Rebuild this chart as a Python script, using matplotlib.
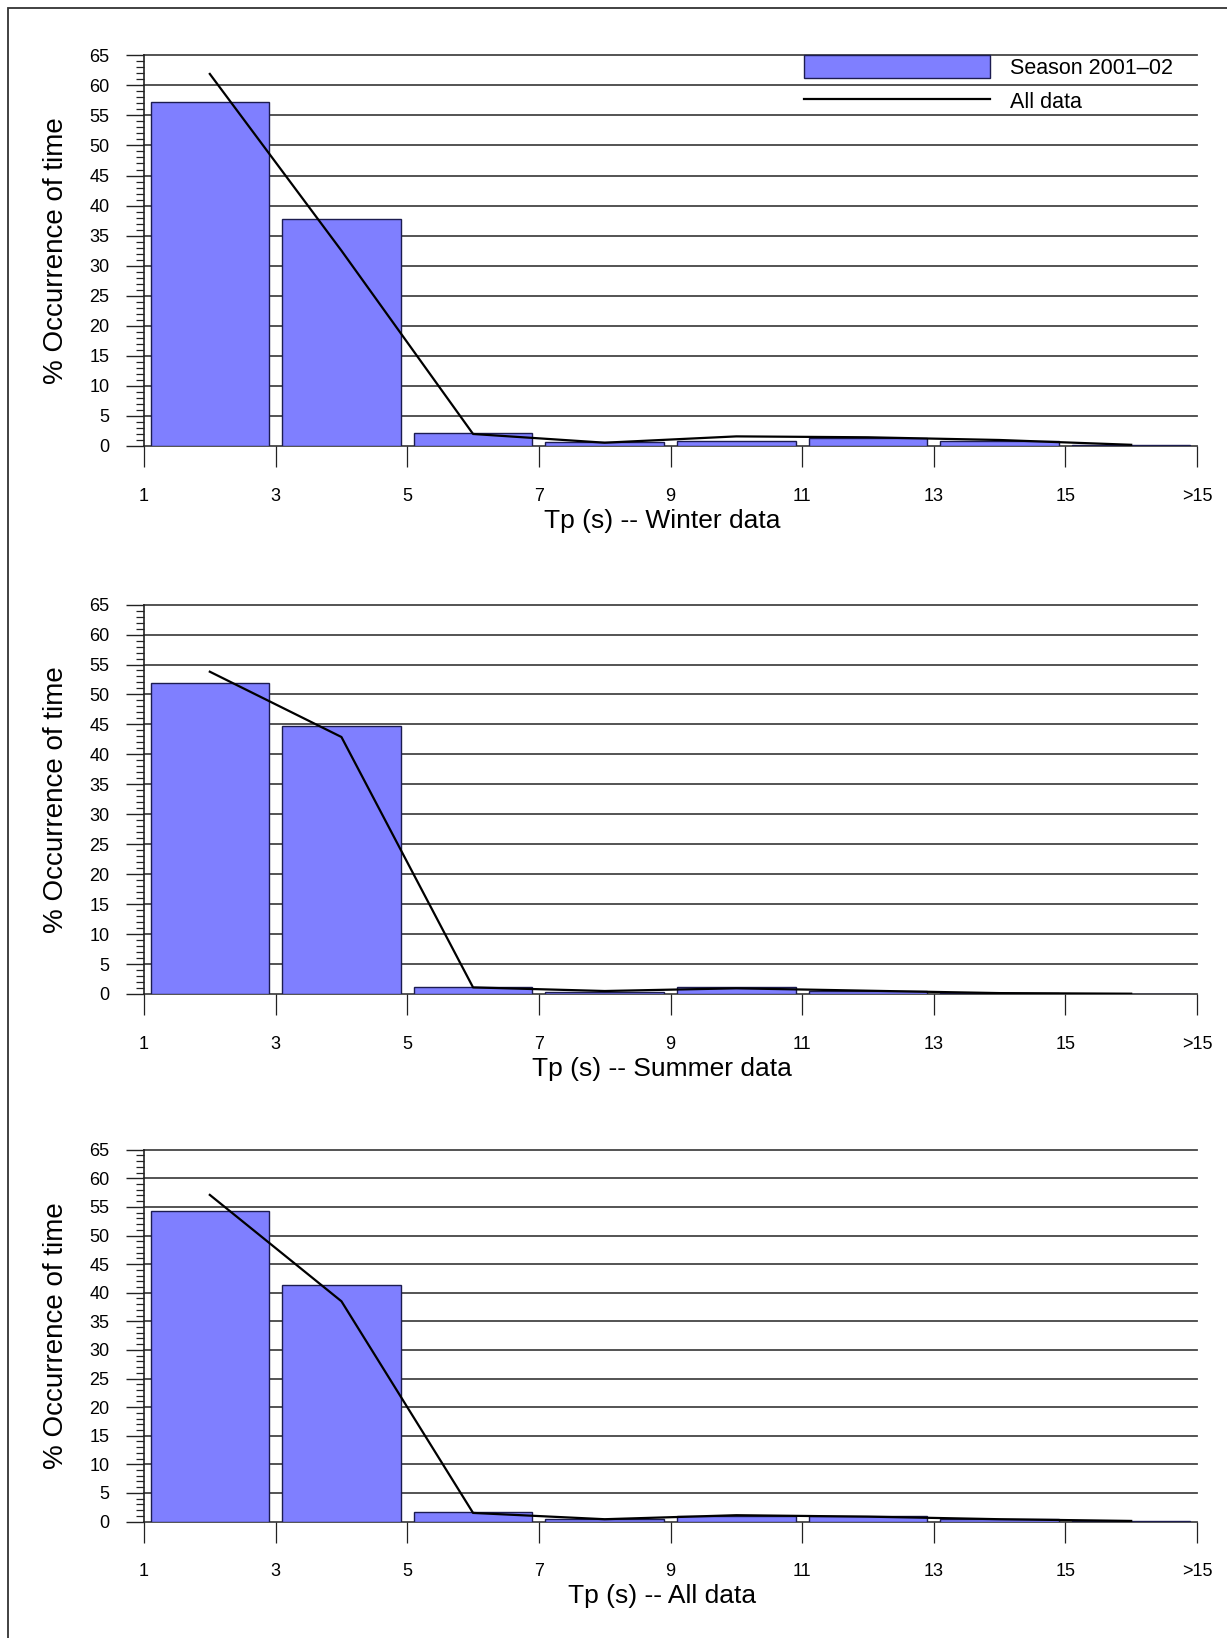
import matplotlib
matplotlib.use("Agg")
import matplotlib.pyplot as plt
from matplotlib.patches import Rectangle
from matplotlib.ticker import MultipleLocator

plt.rcParams['font.family'] = ['Liberation Sans', 'DejaVu Sans']

# bin centres (2 s bins from 1 to >15)
centres = [2, 4, 6, 8, 10, 12, 14, 16]
tick_pos = [1, 3, 5, 7, 9, 11, 13, 15, 17]
tick_labels = ['1', '3', '5', '7', '9', '11', '13', '15', '>15']

winter_season = [57.2, 37.7, 2.15, 0.65, 0.8, 1.3, 0.85, 0.15]
winter_all = [61.9, 32.5, 2.0, 0.55, 1.6, 1.45, 1.0, 0.2]

summer_season = [51.9, 44.8, 1.2, 0.3, 1.15, 0.45, 0.1, 0.05]
summer_all = [53.8, 42.9, 1.1, 0.5, 0.95, 0.55, 0.15, 0.05]

alldata_season = [54.2, 41.4, 1.7, 0.4, 1.0, 0.9, 0.35, 0.1]
alldata_all = [57.1, 38.5, 1.5, 0.4, 1.1, 0.85, 0.4, 0.1]

panels = [
    ("Tp (s) -- Winter data", winter_season, winter_all),
    ("Tp (s) -- Summer data", summer_season, summer_all),
    ("Tp (s) -- All data", alldata_season, alldata_all),
]

W, H = 1227, 1638
fig = plt.figure(figsize=(W / 100, H / 100), dpi=100)

# axes boxes in pixels: (y of 0 line, y of 65 line)
boxes = [(446, 55.3), (994, 604.6), (1521.5, 1149.7)]
x0, x1 = 144, 1197

for i, (xlab, season, alld) in enumerate(panels):
    ybot, ytop = boxes[i]
    ax = fig.add_axes([x0 / W, 1 - ybot / H, (x1 - x0) / W, (ybot - ytop) / H])
    ax.set_xlim(1, 17)
    ax.set_ylim(0, 65)
    for y in range(0, 70, 5):
        ax.axhline(y, color='#454545', lw=1.3, zorder=1, clip_on=False)
    bars = ax.bar(centres, season, width=1.8, color='#7f7fff', edgecolor='#1c1c50',
                  lw=1.0, zorder=2)
    line, = ax.plot(centres, alld, color='black', lw=1.6, zorder=3)

    for s in ['top', 'right', 'bottom']:
        ax.spines[s].set_visible(False)
    ax.spines['left'].set_color('#222222')
    ax.spines['left'].set_linewidth(1.2)

    ax.yaxis.set_major_locator(MultipleLocator(5))
    ax.yaxis.set_minor_locator(MultipleLocator(1))
    ax.tick_params(axis='y', which='major', length=13, width=1.0, pad=12,
                   labelsize=13, color='#222222')
    ax.tick_params(axis='y', which='minor', length=5.5, width=0.9, color='#222222')
    ax.set_xticks(tick_pos)
    ax.set_xticklabels(tick_labels)
    ax.tick_params(axis='x', which='major', length=15, width=0.9, pad=15,
                   labelsize=13, color='#222222')

    ax.set_ylabel('% Occurrence of time', fontsize=20)
    ax.yaxis.set_label_coords(-(144 - 69) / (x1 - x0), 0.5)
    ax.set_xlabel(xlab, fontsize=19, labelpad=3)
    ax.xaxis.label.set_x(0.492)

    if i == 0:
        ax.legend([bars, line], ['Season 2001\u201302', 'All data'],
                  loc='upper left', bbox_to_anchor=(0.627, 1.0), frameon=False,
                  borderpad=0, handlelength=8.65, handleheight=1.22,
                  handletextpad=0.9, labelspacing=0.5, fontsize=15.5,
                  borderaxespad=0)

# outer frame (top and left edges)
fig.patches.append(Rectangle((8 / W, -0.5), 2.0, 1.5 - 8 / H,
                             transform=fig.transFigure, fill=False,
                             edgecolor='#333333', lw=1.3))

fig.savefig('out.png', dpi=100)
